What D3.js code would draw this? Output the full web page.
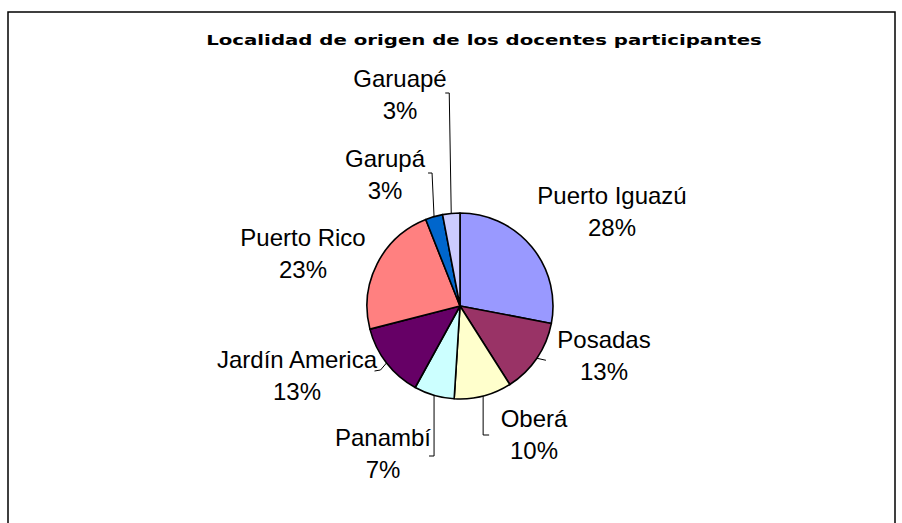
<!DOCTYPE html>
<html>
<head>
<meta charset="utf-8">
<script src="https://cdn.jsdelivr.net/npm/d3@7"></script>
<style>
  html, body { margin: 0; padding: 0; background: #fff; }
  svg { display: block; }
</style>
</head>
<body>
<svg id="chart" width="902" height="523"></svg>
<script>
// ---- data ----
const title = "Localidad de origen de los docentes participantes";
const categories = ["Puerto Iguazú", "Posadas", "Oberá", "Panambí", "Jardín America", "Puerto Rico", "Garupá", "Garuapé"];
const values = [28, 13, 10, 7, 13, 23, 3, 3];
const colors = ["#9999FF", "#993366", "#FFFFCC", "#CCFFFF", "#660066", "#FF8080", "#0066CC", "#CCCCFF"];

// ---- layout (styling) ----
const W = 902, H = 523;
const cx = 460, cy = 306, R = 93;
// label centres [x, y centre of name line]
const labelPos = [
  [612, 195], [604, 339], [534, 418], [383, 437],
  [297, 359], [303, 237], [385, 158], [400, 78]
];

const svg = d3.select("#chart");

// frame
svg.append("rect")
  .attr("x", 8).attr("y", 12)
  .attr("width", 887).attr("height", 530)
  .attr("fill", "#fff").attr("stroke", "#000").attr("stroke-width", 1.5);

// title (horizontally stretched like the reference)
const titleWidth = 556, titleCx = 484;
const tt = svg.append("text")
  .attr("x", 0).attr("y", 0)
  .attr("text-anchor", "middle")
  .attr("font-family", "'DejaVu Sans', Verdana, sans-serif")
  .attr("font-weight", "bold")
  .attr("font-size", 14)
  .attr("fill", "#000")
  .text(title);
const natural = tt.node().getComputedTextLength();
tt.attr("transform", `translate(${titleCx},45) scale(${titleWidth / natural},1)`);

const total = d3.sum(values);
const data = categories.map((c, i) => ({ name: c, value: values[i], color: colors[i] }));

const pie = d3.pie().sort(null).value(d => d.value);
const arcs = pie(data);
const arc = d3.arc().innerRadius(0).outerRadius(R);

const g = svg.append("g").attr("transform", `translate(${cx},${cy})`);
g.selectAll("path")
  .data(arcs)
  .join("path")
  .attr("d", arc)
  .attr("fill", d => d.data.color)
  .attr("stroke", "#000")
  .attr("stroke-width", 1.6)
  .attr("stroke-linejoin", "round");

// leader lines from slice rim toward labels
function rim(a, r) { return [cx + r * Math.sin(a), cy - r * Math.cos(a)]; }
function mid(i) { return (arcs[i].startAngle + arcs[i].endAngle) / 2; }
const leaders = [];
{ const p = rim(mid(1), R); leaders.push([p, [p[0] + 9, p[1] + 2]]); }                       // Posadas
{ const p = rim(mid(2), R); leaders.push([p, [p[0], 435], [p[0] + 6, 435]]); }                // Oberá
{ const p = rim(mid(3), R); leaders.push([p, [p[0], 456], [p[0] - 5, 456]]); }                // Panambí
{ const p = rim(mid(4), R); leaders.push([p, [p[0] - 6, p[1] + 7], [p[0] - 12, p[1] + 8]]); } // Jardín America
{ const p = rim(mid(6), R); leaders.push([p, [p[0] - 2, 173], [p[0] - 6, 173]]); }            // Garupá
{ const p = rim(mid(7), R); leaders.push([p, [p[0] - 2, 93], [p[0] - 6, 93]]); }              // Garuapé
svg.append("g").selectAll("polyline")
  .data(leaders)
  .join("polyline")
  .attr("points", d => d.map(p => p.join(",")).join(" "))
  .attr("fill", "none")
  .attr("stroke", "#000")
  .attr("stroke-width", 1);

// labels
const lab = svg.append("g")
  .attr("font-family", "'Liberation Sans', Arial, sans-serif")
  .attr("font-size", 24)
  .attr("fill", "#000")
  .attr("text-anchor", "middle");
arcs.forEach((d, i) => {
  const [x, y] = labelPos[i];
  const t = lab.append("text").attr("x", x).attr("y", y + 9);
  t.append("tspan").attr("x", x).text(d.data.name);
  t.append("tspan").attr("x", x).attr("dy", 32)
    .text(Math.round(d.data.value / total * 100) + "%");
});
</script>
</body>
</html>
